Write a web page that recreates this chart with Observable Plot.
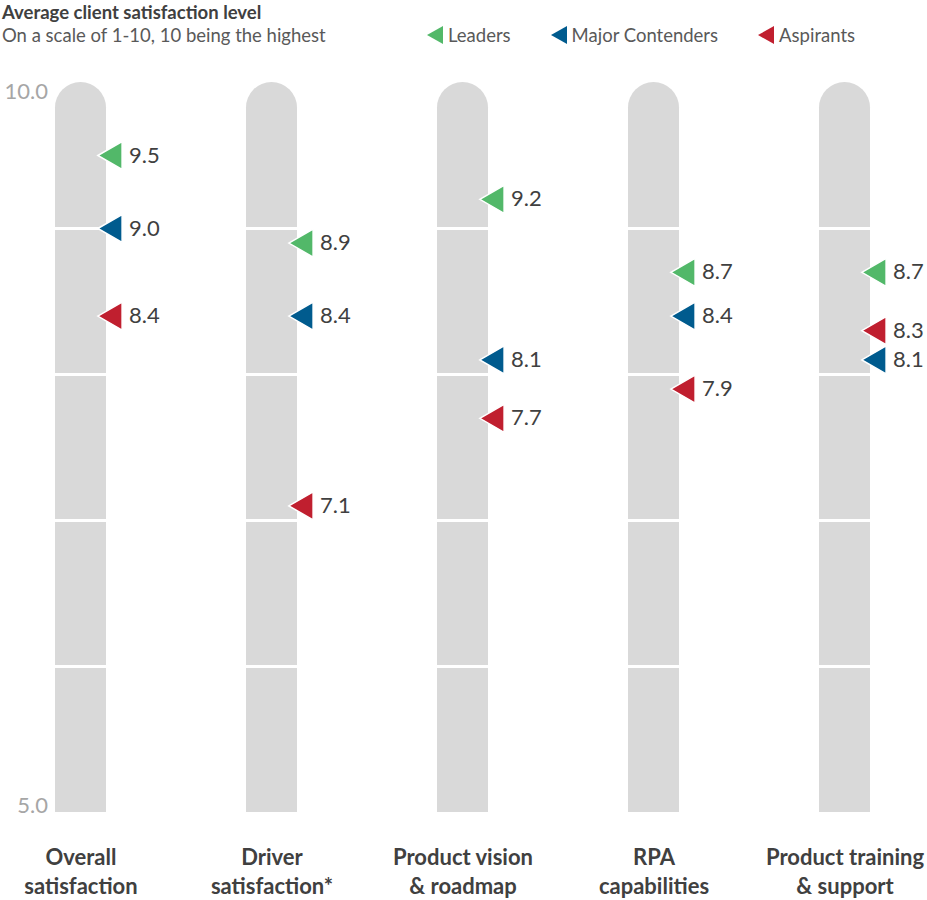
<!DOCTYPE html>
<html>
<head>
<meta charset="utf-8">
<script src="https://cdn.jsdelivr.net/npm/d3@7"></script>
<script src="https://cdn.jsdelivr.net/npm/@observablehq/plot@0.6"></script>
<style>
  body { margin: 0; background: #fff; font-family: Lato, "Open Sans", sans-serif; }
  #wrap { position: relative; width: 927px; height: 900px; }
  #title { position: absolute; left: 2px; top: 1px; font-size: 18.5px; font-weight: bold; color: #404040; }
  #subtitle { position: absolute; left: 2px; top: 24px; font-size: 18.5px; color: #595959; }
  #legend { position: absolute; left: 427px; top: 24px; font-size: 18.5px; color: #595959; display: flex; }
  .item { display: flex; align-items: center; margin-right: 40px; }
  .item svg { margin-right: 5px; }
  #chart { position: absolute; left: 0; top: 60px; }
</style>
</head>
<body>
<div id="wrap">
  <div id="title">Average client satisfaction level</div>
  <div id="subtitle">On a scale of 1-10, 10 being the highest</div>
  <div id="legend"></div>
  <div id="chart"></div>
</div>
<script>
const categories = ["Overall\nsatisfaction", "Driver\nsatisfaction*", "Product vision\n& roadmap", "RPA\ncapabilities", "Product training\n& support"];
const groups = ["Leaders", "Major Contenders", "Aspirants"];
const leaders = [9.5, 8.9, 9.2, 8.7, 8.7];
const contenders = [9.0, 8.4, 8.1, 8.4, 8.1];
const aspirants = [8.4, 7.1, 7.7, 7.9, 8.3];
const gridValues = [6, 7, 8, 9];
const axisMin = 5, axisMax = 10;
const colors = ["#52b869", "#005b8e", "#c01f2f"];

const series = [leaders, contenders, aspirants];
const points = [];
series.forEach((vals, gi) => vals.forEach((v, ci) => points.push({category: categories[ci], group: groups[gi], value: v})));
const grid = [];
categories.forEach(c => gridValues.forEach(g => grid.push({category: c, value: g})));

// legend
const legend = document.getElementById("legend");
groups.forEach((g, i) => {
  const d = document.createElement("div");
  d.className = "item";
  d.innerHTML = `<svg width="16" height="18"><polygon points="0,9 16,0 16,18" fill="${colors[i]}"/></svg><span>${g}</span>`;
  legend.appendChild(d);
});

const chart = Plot.plot({
  width: 927,
  height: 840,
  marginLeft: 0, marginRight: 0, marginTop: 22, marginBottom: 88,
  x: {type: "band", domain: categories, range: [54, 871], paddingInner: 0.734, paddingOuter: 0, axis: null},
  y: {domain: [axisMin, axisMax], range: [752, 22], axis: null},
  color: {domain: groups, range: colors},
  style: {fontFamily: "Lato, 'Open Sans', sans-serif", background: "white"},
  marks: [
    Plot.barY(categories, {x: d => d, y1: axisMin, y2: axisMax, fill: "#d9d9d9", rx: 25.5}),
    Plot.barY(categories, {x: d => d, y1: axisMin, y2: axisMax - 1, fill: "#d9d9d9"}),
    Plot.tickY(grid, {x: "category", y: "value", stroke: "white", strokeWidth: 3}),
    Plot.dot(points, {x: "category", y: "value", fill: "group", symbol: "triangle", rotate: -90, r: 10.4, dx: 33, stroke: "white", strokeWidth: 1.5}),
    Plot.text(points, {x: "category", y: "value", text: d => d.value.toFixed(1), dx: 48, textAnchor: "start", fontSize: 22, fill: "#404040"}),
    Plot.text([axisMax], {x: () => categories[0], y: d => d, text: d => d.toFixed(1), dx: -33, textAnchor: "end", lineAnchor: "top", dy: 1, fontSize: 22, fill: "#a6a6a6"}),
    Plot.text([axisMin], {x: () => categories[0], y: d => d, text: d => d.toFixed(1), dx: -33, textAnchor: "end", lineAnchor: "bottom", fontSize: 22, fill: "#a6a6a6"}),
    Plot.text(categories, {x: d => d, y: axisMin, text: d => d, dy: 32, lineAnchor: "top", lineHeight: 1.32, fontSize: 22, fontWeight: "bold", fill: "#404040"})
  ]
});
document.getElementById("chart").appendChild(chart);
</script>
</body>
</html>
